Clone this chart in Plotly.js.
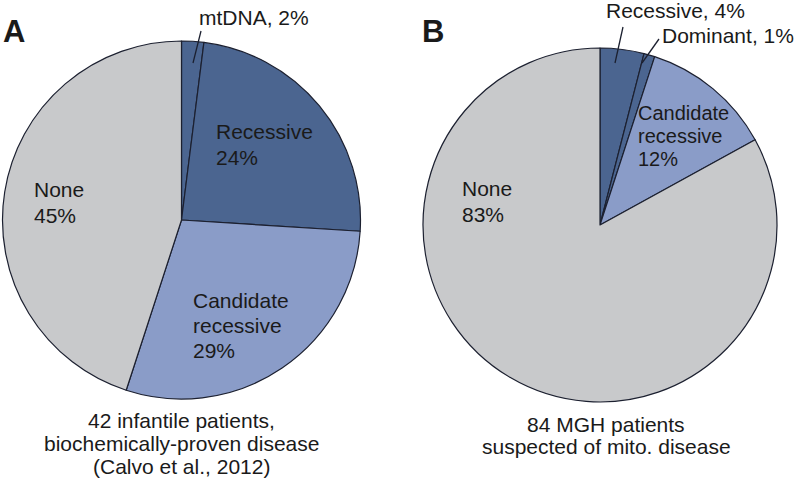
<!DOCTYPE html>
<html>
<head>
<meta charset="utf-8">
<script src="https://cdn.plot.ly/plotly-3.0.1.min.js"></script>
<style>html,body{margin:0;padding:0;background:#fff;}#chart{width:796px;height:482px;}</style>
</head>
<body>
<div id="chart"></div>
<script>
// ---- data ----
const labelsA = ['mtDNA', 'Recessive', 'Candidate recessive', 'None'];
const valuesA = [2, 24, 29, 45];
const labelsB = ['Recessive', 'Dominant', 'Candidate recessive', 'None'];
const valuesB = [4, 1, 12, 83];
const captionA = ['42 infantile patients,', 'biochemically-proven disease', '(Calvo et al., 2012)'];
const captionB = ['84 MGH patients', 'suspected of mito. disease'];
const panelLabels = ['A', 'B'];

// ---- styles ----
const DARK = '#4b6590', LIGHT = '#8a9cc8', GREY = '#c8c9cb', EDGE = '#1c2030';
const colorsA = [DARK, DARK, LIGHT, GREY];
const colorsB = [DARK, DARK, LIGHT, GREY];
const FONT = 'Liberation Sans, Arial, sans-serif';
const TXT = '#1a1a1a';
const FS = 21;
const W = 796, H = 482;

// label placement: [mode, left x, first baseline, line gap, font size]
const placeA = [
  ['out', 200, 25, 0, FS],
  ['in', 217, 139, 26, FS],
  ['in', 194, 308, 25, FS],
  ['in', 35, 197, 26, FS]
];
const placeB = [
  ['out', 607, 18, 0, FS],
  ['out', 663, 43, 0, FS],
  ['in', 639, 120, 23, 20],
  ['in', 463, 196, 26, FS]
];

const annotations = [];
function addText(x, baseline, text, anchor, size, bold) {
  annotations.push({
    xref: 'x', yref: 'y', x: x, y: baseline - size * 0.36,
    xanchor: anchor, yanchor: 'middle', showarrow: false, borderpad: 0,
    text: bold ? '<b>' + text + '</b>' : text,
    font: {family: FONT, size: size, color: TXT}
  });
}
function addLabels(labels, values, place) {
  labels.forEach((lab, i) => {
    const p = place[i];
    if (p[0] === 'out') {
      addText(p[1] - 2, p[2], lab + ', ' + values[i] + '%', 'left', p[4], false);
    } else {
      const lines = lab.split(' ').concat([values[i] + '%']);
      lines.forEach((ln, k) => addText(p[1] - 2, p[2] + k * p[3], ln, 'left', p[4], false));
    }
  });
}
addLabels(labelsA, valuesA, placeA);
addLabels(labelsB, valuesB, placeB);
captionA.forEach((ln, k) => addText(181, 428 + k * 23, ln, 'center', FS, false));
captionB.forEach((ln, k) => addText(606, 432 + k * 22, ln, 'center', FS, false));
addText(2, 43, panelLabels[0], 'left', 31, true);
addText(421, 43, panelLabels[1], 'left', 31, true);

// leader lines
const leaders = [[201, 31, 193, 63], [623, 27, 615, 63], [659, 39, 642, 63]];
const shapes = leaders.map(l => ({
  type: 'line', xref: 'x', yref: 'y', x0: l[0], y0: l[1], x1: l[2], y1: l[3],
  line: {color: EDGE, width: 1.3}
}));

// pie domains in pixels -> paper
function dom(cx, cy, r) {
  return {x: [(cx - r) / W, (cx + r) / W], y: [1 - (cy + r) / H, 1 - (cy - r) / H]};
}

const traces = [
  {type: 'pie', labels: labelsA, values: valuesA, sort: false, direction: 'clockwise', rotation: 0,
   marker: {colors: colorsA, line: {color: EDGE, width: 1.2}}, textinfo: 'none', hoverinfo: 'label+percent',
   domain: dom(181.5, 220, 179), showlegend: false},
  {type: 'pie', labels: labelsB, values: valuesB, sort: false, direction: 'clockwise', rotation: 0,
   marker: {colors: colorsB, line: {color: EDGE, width: 1.2}}, textinfo: 'none', hoverinfo: 'label+percent',
   domain: dom(600, 225, 177), showlegend: false}
];

const layout = {
  width: W, height: H, margin: {l: 0, r: 0, t: 0, b: 0},
  paper_bgcolor: '#fff', plot_bgcolor: 'rgba(0,0,0,0)',
  showlegend: false,
  xaxis: {range: [0, W], visible: false, fixedrange: true},
  yaxis: {range: [H, 0], visible: false, fixedrange: true},
  annotations: annotations, shapes: shapes,
  font: {family: FONT, color: TXT}
};
Plotly.newPlot('chart', traces, layout, {staticPlot: true, displayModeBar: false});
</script>
</body>
</html>
